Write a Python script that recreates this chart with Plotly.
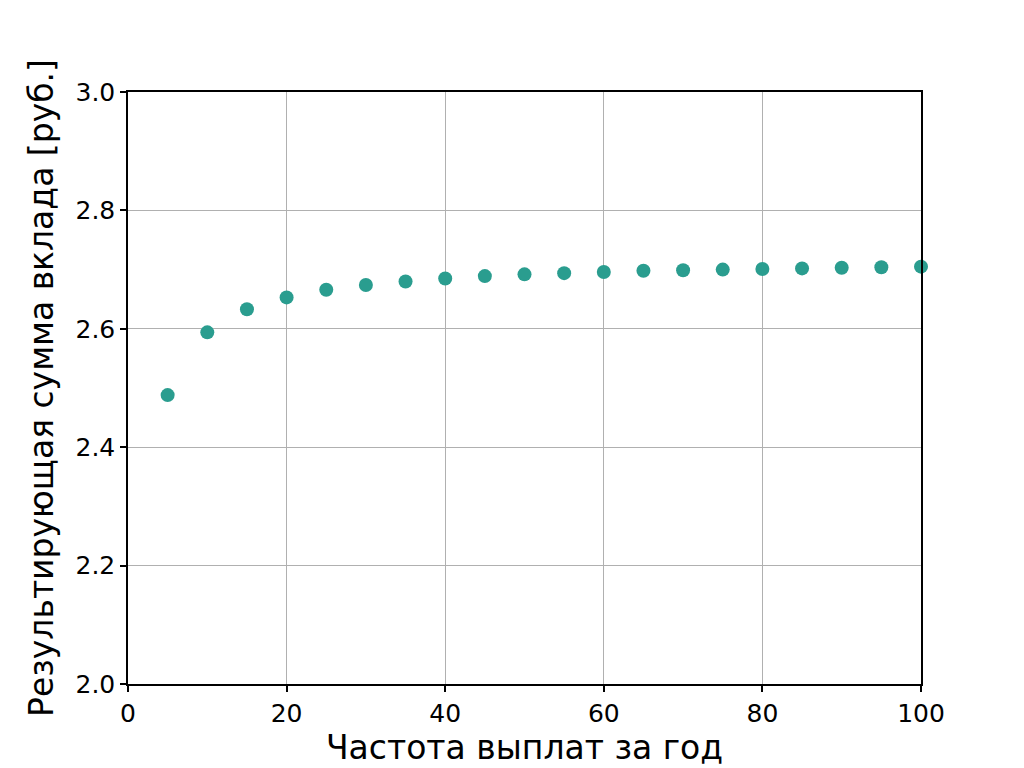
import plotly.graph_objects as go

frequency = [5, 10, 15, 20, 25, 30, 35, 40, 45, 50, 55, 60, 65, 70, 75, 80, 85, 90, 95, 100]
amount = [2.488, 2.594, 2.633, 2.653, 2.666, 2.674, 2.680, 2.685, 2.689, 2.692,
          2.694, 2.696, 2.698, 2.699, 2.700, 2.701, 2.702, 2.703, 2.704, 2.705]

x_ticks = [0, 20, 40, 60, 80, 100]
y_ticks = [2.0, 2.2, 2.4, 2.6, 2.8, 3.0]

fig = go.Figure(go.Scatter(
    x=frequency, y=amount, mode="markers",
    marker=dict(color="#2a9d8f", size=14, line=dict(width=0)),
    cliponaxis=False,
))

axis_common = dict(
    showline=True, linecolor="black", linewidth=1.5, mirror=True,
    ticks="outside", ticklen=6, tickwidth=1.5, tickcolor="black",
    showgrid=True, gridcolor="#b0b0b0", gridwidth=1.2,
    zeroline=False,
    tickfont=dict(family="DejaVu Sans", size=25, color="black"),
)

fig.update_layout(
    width=1024, height=768,
    paper_bgcolor="white", plot_bgcolor="white",
    margin=dict(l=120, r=111, t=84, b=92),
    showlegend=False,
    font=dict(family="DejaVu Sans", color="black"),
    xaxis=dict(range=[0, 100], tickvals=x_ticks, ticktext=[str(v) for v in x_ticks],
               title=dict(text="Частота выплат за год", font=dict(size=33), standoff=5),
               **axis_common),
    yaxis=dict(range=[2.0, 3.0], tickvals=y_ticks, ticktext=[f"{v:.1f}" for v in y_ticks],
               title=dict(text="Результирующая сумма вклада [руб.]", font=dict(size=33), standoff=12),
               **axis_common),
)

fig.write_html("out.html")
